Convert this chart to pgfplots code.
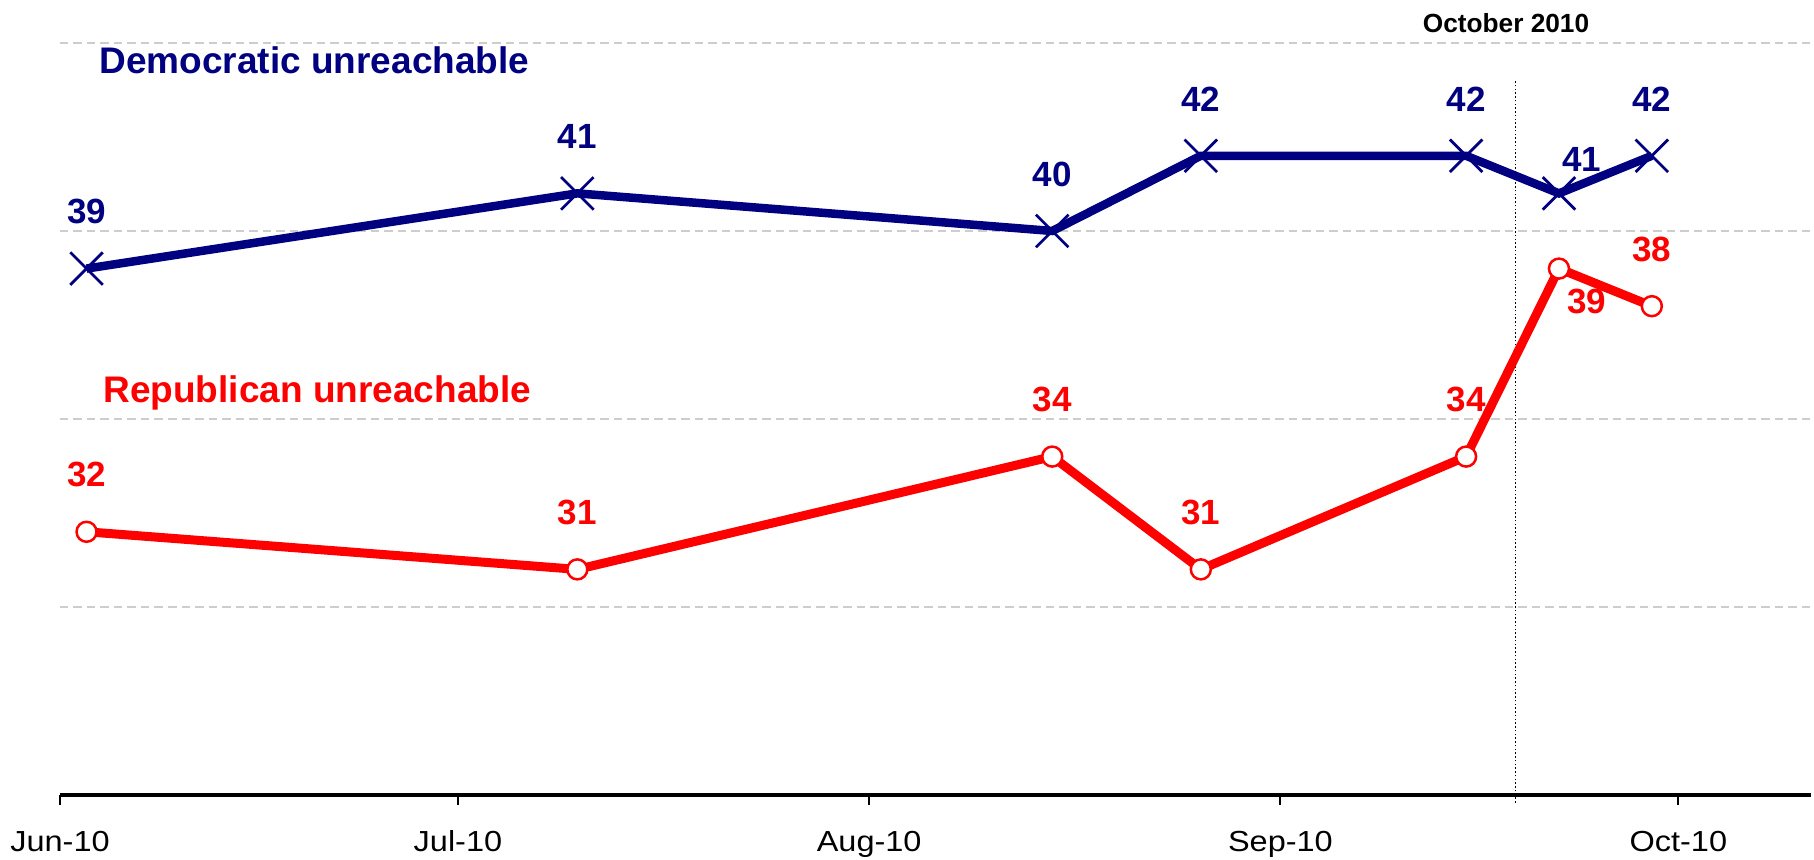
\documentclass[border=0pt]{standalone}
\usepackage{fontspec}
\setmainfont{Liberation Sans}
\newfontfamily\tickfont[FakeStretch=1.12]{Liberation Sans}
\usepackage{pgfplots}
\pgfplotsset{compat=1.18}
\definecolor{dem}{RGB}{0,0,128}
\definecolor{rep}{RGB}{255,0,0}
\definecolor{gridc}{RGB}{205,205,205}
\tikzset{labelnode/.style={inner sep=0pt, anchor=south, font=\fontsize{14}{16}\selectfont\bfseries}}
\begin{document}
\begin{tikzpicture}
\begin{axis}[
  scale only axis,
  width=700.4pt, height=300.8pt,
  xmin=0, xmax=132, ymin=25, ymax=45,
  clip=false,
  axis x line=bottom,
  axis y line=left,
  x axis line style={-, line width=1.3pt, black},
  y axis line style={draw=none, -},
  xtick={0,30,61,92,122},
  xticklabels={Jun-10,Jul-10,Aug-10,Sep-10,Oct-10},
  xtick align=outside,
  major tick length=4pt,
  xtick style={black, line width=0.8pt},
  xticklabel style={font=\tickfont\fontsize{11.6}{13}\selectfont, inner sep=0pt, anchor=base, yshift=-18.6pt},
  ytick={30,35,40,45},
  yticklabels={},
  ytick style={draw=none},
  ymajorgrids,
  grid style={gridc, line width=0.5pt, dash pattern=on 3.4pt off 2pt},
]
\coordinate (sw) at (rel axis cs:0,0);
\coordinate (ne) at (rel axis cs:1,1);
% October separator
\addplot[black, line width=0.5pt, dash pattern=on 0.6pt off 0.9pt] coordinates {(109.7,24.8) (109.7,44.02)};
% Democratic
\addplot[dem, line width=3.4pt, mark=x, mark size=9.2pt, mark options={line width=1.1pt, solid}] coordinates {
(2,39) (39,41) (74.8,40) (86,42) (106,42) (113,41) (120,42)};
% Republican
\addplot[rep, line width=3.6pt, mark=*, mark size=4pt, mark options={line width=1pt, fill=white, draw=rep}] coordinates {
(2,32) (39,31) (74.8,34) (86,31) (106,34) (113,39) (120,38)};
% value labels
\addplot[draw=none, mark=none, point meta=explicit symbolic, nodes near coords,
  every node near coord/.append style={labelnode, text=dem, yshift=17.6pt}] coordinates {
(2,39) [39] (39,41) [41] (74.8,40) [40] (86,42) [42] (106,42) [42] (120,42) [42]};
\addplot[draw=none, mark=none, point meta=explicit symbolic, nodes near coords,
  every node near coord/.append style={labelnode, text=dem, xshift=9.2pt, yshift=8.4pt}] coordinates {
(113,41) [41]};
\addplot[draw=none, mark=none, point meta=explicit symbolic, nodes near coords,
  every node near coord/.append style={labelnode, text=rep, yshift=17.6pt}] coordinates {
(2,32) [32] (39,31) [31] (74.8,34) [34] (86,31) [31] (106,34) [34] (120,38) [38]};
\addplot[draw=none, mark=none, point meta=explicit symbolic, nodes near coords,
  every node near coord/.append style={labelnode, text=rep, xshift=11.2pt, yshift=-18.4pt}] coordinates {
(113,39) [39]};
% series names and period label
\node[anchor=base west, inner sep=0pt, text=dem, font=\fontsize{14.8}{16}\selectfont\bfseries] at (axis cs:2.94,44.2) {Democratic unreachable};
\node[anchor=base west, inner sep=0pt, text=rep, font=\fontsize{14.8}{16}\selectfont\bfseries] at (axis cs:3.24,35.45) {Republican unreachable};
\node[anchor=base west, inner sep=0pt, text=black, font=\fontsize{10.5}{12}\selectfont\bfseries] at (axis cs:102.7,45.29) {October 2010};
\end{axis}
\pgfresetboundingbox
\useasboundingbox ([shift={(-24pt,-26pt)}]sw) rectangle ([shift={(1.2pt,17.2pt)}]ne);
\end{tikzpicture}
\end{document}
